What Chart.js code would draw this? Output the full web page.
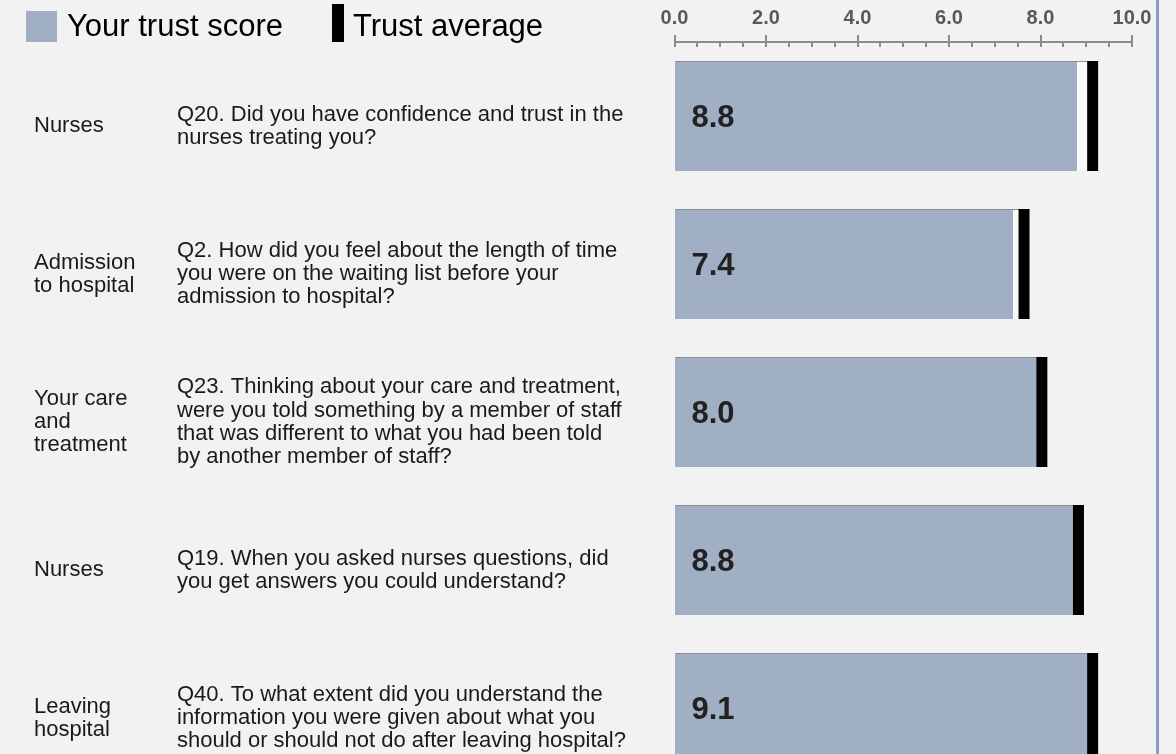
<!DOCTYPE html>
<html>
<head>
<meta charset="utf-8">
<script src="https://cdn.jsdelivr.net/npm/chart.js@4.4.1/dist/chart.umd.min.js"></script>
<style>
html,body{margin:0;padding:0;background:#f2f2f2;overflow:hidden;width:1176px;height:754px;}
#wrap{position:relative;width:1176px;height:754px;overflow:hidden;}
#c{position:absolute;left:0;top:0;}
#legend{position:absolute;left:0;top:0;width:650px;height:50px;font-family:"Liberation Sans",Arial,sans-serif;font-size:31px;color:#000;}
#legend .sw{position:absolute;}
#legend .lt{position:absolute;line-height:31px;white-space:nowrap;}
#edge{position:absolute;left:1156px;top:0;width:3px;height:754px;background:#8a9cc0;}
</style>
</head>
<body>
<div id="wrap">
  <canvas id="c" width="1176" height="782"></canvas>
  <div id="legend"></div>
  <div id="edge"></div>
</div>
<script>
// ---- data ----
const categories = [
  ["Nurses"],
  ["Admission", "to hospital"],
  ["Your care", "and", "treatment"],
  ["Nurses"],
  ["Leaving", "hospital"]
];
const questions = [
  ["Q20. Did you have confidence and trust in the", "nurses treating you?"],
  ["Q2. How did you feel about the length of time", "you were on the waiting list before your", "admission to hospital?"],
  ["Q23. Thinking about your care and treatment,", "were you told something by a member of staff", "that was different to what you had been told", "by another member of staff?"],
  ["Q19. When you asked nurses questions, did", "you get answers you could understand?"],
  ["Q40. To what extent did you understand the", "information you were given about what you", "should or should not do after leaving hospital?"]
];
const trustScores = [8.8, 7.4, 8.0, 8.8, 9.1];
const trustAverages = [9.14, 7.64, 8.03, 8.83, 9.14];
const axisMin = 0;
const axisMax = 10;
const axisMajorStep = 2;
const axisMinorStep = 0.5;
const seriesNames = ["Your trust score", "Trust average"];

// ---- styles ----
const FONT = '"Liberation Sans", Arial, sans-serif';
const SCORE_COLOR = '#a0afc3';
const AVG_COLOR = '#000000';
const TRACK_COLOR = '#f9f9f9';
const MARKER_HALF = 0.12;

const axisTicks = {
  id: 'axisTicks',
  afterDraw(chart) {
    const xs = chart.scales.x;
    const ctx = chart.ctx;
    const y0 = xs.bottom;
    ctx.save();
    ctx.strokeStyle = '#8c8c8c';
    ctx.lineWidth = 2;
    const n = Math.round((axisMax - axisMin) / axisMinorStep);
    for (let i = 0; i <= n; i++) {
      const v = axisMin + i * axisMinorStep;
      const x = Math.round(xs.getPixelForValue(v));
      const r = v / axisMajorStep;
      const major = Math.abs(r - Math.round(r)) < 1e-6;
      ctx.beginPath();
      ctx.moveTo(x, major ? y0 - 7 : y0);
      ctx.lineTo(x, y0 + 5);
      ctx.stroke();
    }
    ctx.restore();
  }
};

const valueLabels = {
  id: 'valueLabels',
  afterDatasetsDraw(chart) {
    const idx = chart.data.datasets.findIndex(d => d.label === seriesNames[0]);
    const meta = chart.getDatasetMeta(idx);
    const ctx = chart.ctx;
    ctx.save();
    ctx.font = 'bold 31px ' + FONT;
    ctx.fillStyle = '#222222';
    ctx.textAlign = 'left';
    ctx.textBaseline = 'middle';
    meta.data.forEach((el, i) => {
      ctx.fillText(trustScores[i].toFixed(1), chart.chartArea.left + 17, el.y + 2);
    });
    ctx.restore();
  }
};

const labelFont = { family: FONT, size: 22, lineHeight: 1.05 };

const chart = new Chart(document.getElementById('c'), {
  type: 'bar',
  data: {
    labels: categories,
    datasets: [
      {
        label: seriesNames[1],
        data: trustAverages.map(v => [v - MARKER_HALF, v + MARKER_HALF]),
        backgroundColor: AVG_COLOR,
        borderWidth: 0,
        order: 1
      },
      {
        label: seriesNames[0],
        data: trustScores,
        backgroundColor: SCORE_COLOR,
        borderColor: '#8f8f8f',
        borderWidth: { top: 1, right: 0, bottom: 0, left: 0 },
        borderSkipped: false,
        order: 2
      },
      {
        label: 'track',
        data: trustAverages,
        backgroundColor: TRACK_COLOR,
        borderColor: '#8f8f8f',
        borderWidth: { top: 1, right: 0, bottom: 0, left: 0 },
        borderSkipped: false,
        order: 3
      }
    ]
  },
  options: {
    indexAxis: 'y',
    responsive: false,
    animation: false,
    devicePixelRatio: 1,
    categoryPercentage: 1,
    barPercentage: 110 / 148,
    layout: { padding: { left: 34, right: 44, top: 0, bottom: 0 } },
    plugins: { legend: { display: false }, tooltip: { enabled: false } },
    scales: {
      x: {
        position: 'top',
        min: axisMin,
        max: axisMax,
        stacked: false,
        grid: { display: true, drawOnChartArea: false, drawTicks: false },
        border: { display: true, color: '#8c8c8c', width: 2 },
        ticks: {
          stepSize: axisMajorStep,
          padding: 12,
          color: '#595959',
          font: { family: FONT, size: 20, weight: 'bold' },
          callback: v => Number(v).toFixed(1)
        },
        afterFit: s => { s.height = 42; }
      },
      y: {
        type: 'category',
        position: 'left',
        weight: 2,
        stacked: true,
        offset: true,
        grid: { display: false },
        border: { display: false },
        ticks: {
          autoSkip: false,
          crossAlign: 'far',
          labelOffset: 10,
          color: '#1a1a1a',
          font: labelFont
        },
        afterFit: s => { s.width = 143; s.paddingTop = 0; s.paddingBottom = 0; }
      },
      y2: {
        type: 'category',
        labels: questions,
        position: 'left',
        weight: 1,
        offset: true,
        grid: { display: false },
        border: { display: false },
        ticks: {
          autoSkip: false,
          crossAlign: 'far',
          labelOffset: 10,
          color: '#1a1a1a',
          font: labelFont
        },
        afterFit: s => { s.width = 497.5; s.paddingTop = 0; s.paddingBottom = 0; }
      }
    }
  },
  plugins: [axisTicks, valueLabels]
});

// ---- HTML legend built from the datasets ----
(function buildLegend() {
  const lg = document.getElementById('legend');
  const layouts = [
    { sw: { left: 26, top: 11, w: 31, h: 31 }, text: { left: 67, top: 10 } },
    { sw: { left: 332, top: 4, w: 12, h: 38 }, text: { left: 353, top: 10 } }
  ];
  seriesNames.forEach((name, i) => {
    const ds = chart.data.datasets.find(d => d.label === name);
    const L = layouts[i];
    const sw = document.createElement('div');
    sw.className = 'sw';
    sw.style.cssText = `left:${L.sw.left}px;top:${L.sw.top}px;width:${L.sw.w}px;height:${L.sw.h}px;background:${ds.backgroundColor};`;
    const t = document.createElement('div');
    t.className = 'lt';
    t.style.cssText = `left:${L.text.left}px;top:${L.text.top}px;`;
    t.textContent = name;
    lg.appendChild(sw);
    lg.appendChild(t);
  });
})();
</script>
</body>
</html>
